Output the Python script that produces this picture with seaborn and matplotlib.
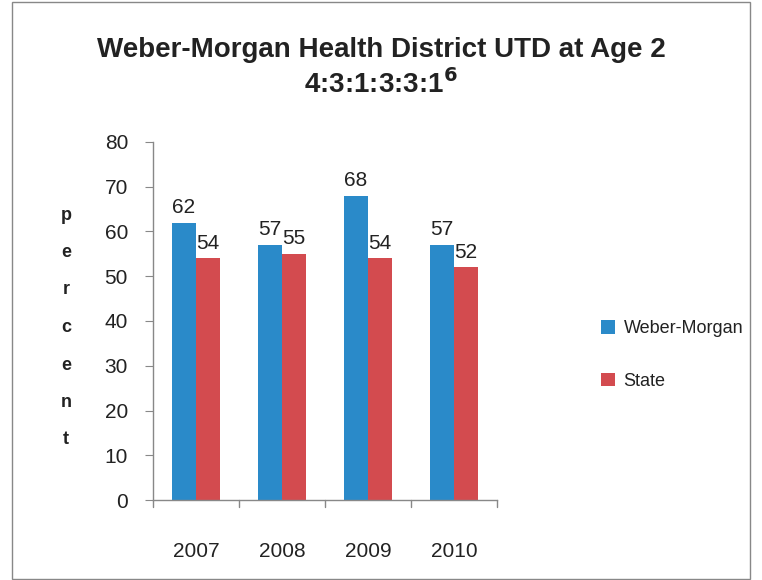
import pandas as pd
import matplotlib
matplotlib.use("Agg")
import matplotlib.pyplot as plt
import seaborn as sns
from matplotlib.patches import Rectangle

# Données du graphique
years = ["2007", "2008", "2009", "2010"]
weber_morgan = [62, 57, 68, 57]
state = [54, 55, 54, 52]
series_names = ["Weber-Morgan", "State"]
colors = ["#2A8AC9", "#D34B4F"]

df = pd.DataFrame({
    "Year": years * 2,
    "Value": weber_morgan + state,
    "Series": [series_names[0]] * len(years) + [series_names[1]] * len(years),
})

sns.set_style("white")
plt.rcParams["font.family"] = ["Liberation Sans", "DejaVu Sans"]

fig = plt.figure(figsize=(7.62, 5.8), dpi=100)
ax = fig.add_axes([153 / 762, 1 - 500 / 580, 344 / 762, 358 / 580])

sns.barplot(data=df, x="Year", y="Value", hue="Series", palette=colors,
            width=0.56, ax=ax, saturation=1, legend=True, linewidth=0)

for container in ax.containers:
    ax.bar_label(container, fontsize=15, color="#222222", padding=4)

ax.set_ylim(0, 80)
ax.set_yticks(range(0, 81, 10))
ax.set_xlim(-0.5, 3.5)
ax.set_xlabel("")
ax.set_ylabel("")
ax.tick_params(axis="y", labelsize=15, length=6, direction="out", left=True,
               color="#888888", pad=12, labelcolor="#222222")
ax.tick_params(axis="x", labelsize=15, length=0, pad=30, labelcolor="#222222")
for x in [-0.5, 0.5, 1.5, 2.5, 3.5]:
    ax.plot([x, x], [0, -1.5], color="#888888", lw=1, clip_on=False)
for s in ["top", "right"]:
    ax.spines[s].set_visible(False)
for s in ["left", "bottom"]:
    ax.spines[s].set_color("#888888")
    ax.spines[s].set_linewidth(1)

# Légende
leg = ax.legend(loc="center left", bbox_to_anchor=(1.255, 0.405), frameon=False,
                fontsize=13, handlelength=0.75, handleheight=0.75, labelspacing=1.95,
                handletextpad=0.5)
for t in leg.get_texts():
    t.set_color("#222222")

# Axe Y : lettres empilées
for i, ch in enumerate("percent"):
    fig.text(66 / 762, 1 - (215 + i * 37.5) / 580, ch, ha="center", va="center",
             fontsize=13, fontweight="bold", color="#222222")

# Titre
fig.text(0.5, 1 - 50 / 580, "Weber-Morgan Health District UTD at Age 2",
         ha="center", va="center", fontsize=20, fontweight="bold", color="#222222")
fig.text(0.5, 1 - 84 / 580, r"4:3:1:3:3:1$^{\mathbf{6}}$",
         ha="center", va="center", fontsize=20, fontweight="bold", color="#222222")

# Cadre
fig.patches.append(Rectangle((12 / 762, 0.002), 738 / 762, 0.994, transform=fig.transFigure,
                             fill=False, edgecolor="#888888", lw=1))

fig.savefig("out.png", dpi=100)
